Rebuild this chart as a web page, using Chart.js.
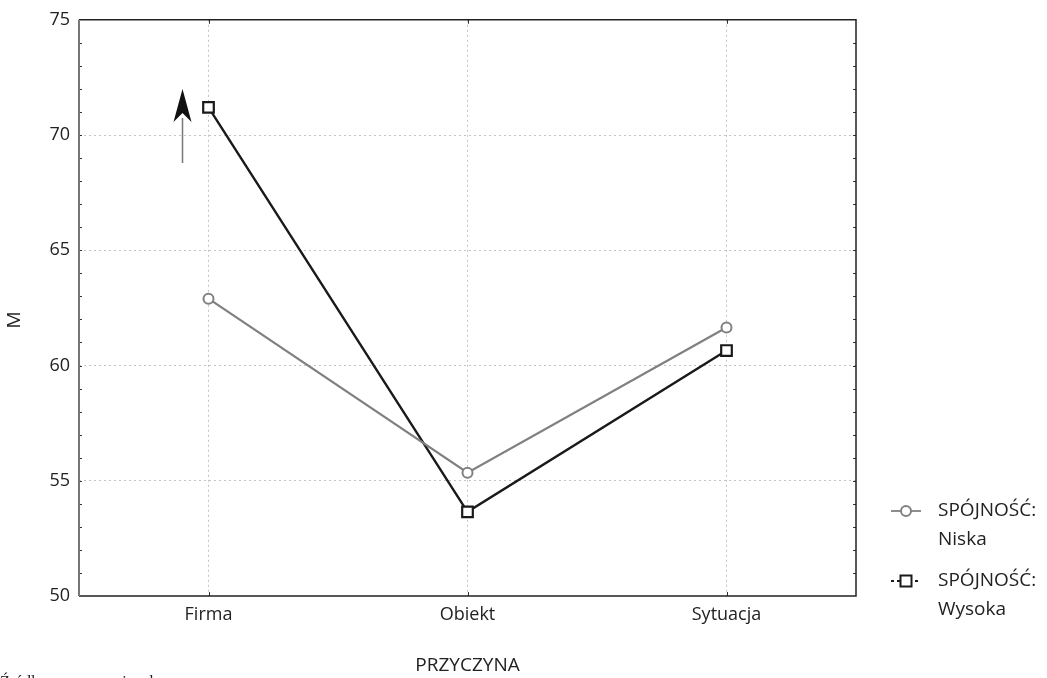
<!DOCTYPE html>
<html>
<head>
<meta charset="utf-8">
<script src="https://cdn.jsdelivr.net/npm/chart.js@4.4.0/dist/chart.umd.min.js"></script>
<style>
  html, body { margin: 0; padding: 0; background: #fff; overflow: hidden; }
  #wrap { position: relative; width: 1047px; height: 678px; }
</style>
</head>
<body>
<div id="wrap"><canvas id="meansChart"></canvas></div>
<script>
const categories = ['Firma', 'Obiekt', 'Sytuacja'];
const niskaValues = [62.9, 55.35, 61.65];
const wysokaValues = [71.2, 53.65, 60.65];
const seriesLabels = [['SPÓJNOŚĆ:', 'Niska'], ['SPÓJNOŚĆ:', 'Wysoka']];
const yMin = 50, yMax = 75, yMajorStep = 5;

const FONT = '"Open Sans", "Noto Sans", sans-serif';

// frame, minor ticks, arrow, legend, y title and source note
const extras = {
    id: 'extras',
    afterDraw(chart) {
        const ctx = chart.ctx;
        const a = chart.chartArea;
        const y = chart.scales.y;
        const x = chart.scales.x;
        ctx.save();

        // minor ticks on left and right
        ctx.strokeStyle = '#333';
        ctx.lineWidth = 1;
        for (let v = yMin + 1; v < yMax; v++) {
            const py = Math.round(y.getPixelForValue(v)) + 0.5;
            ctx.beginPath();
            ctx.moveTo(a.left, py); ctx.lineTo(a.left + 3, py);
            ctx.moveTo(a.right, py); ctx.lineTo(a.right - 3, py);
            ctx.stroke();
        }
        categories.forEach((c, i) => {
            const px = Math.round(x.getPixelForValue(i)) + 0.5;
            ctx.beginPath();
            ctx.moveTo(px, a.bottom); ctx.lineTo(px, a.bottom - 4);
            ctx.moveTo(px, a.top); ctx.lineTo(px, a.top + 4);
            ctx.stroke();
        });

        // frame
        ctx.strokeStyle = '#222';
        ctx.lineWidth = 1.5;
        ctx.beginPath();
        ctx.moveTo(a.left, a.top); ctx.lineTo(a.right, a.top);
        ctx.lineTo(a.right, a.bottom); ctx.lineTo(a.left, a.bottom);
        ctx.stroke();
        ctx.strokeStyle = '#777';
        ctx.lineWidth = 2;
        ctx.beginPath();
        ctx.moveTo(a.left, a.top); ctx.lineTo(a.left, a.bottom);
        ctx.stroke();

        // arrow next to Firma
        const ax = x.getPixelForValue(0) - 26;
        ctx.strokeStyle = '#777';
        ctx.lineWidth = 1.5;
        ctx.beginPath();
        ctx.moveTo(ax, 163); ctx.lineTo(ax, 118);
        ctx.stroke();
        ctx.fillStyle = '#111';
        ctx.beginPath();
        ctx.moveTo(ax, 89);
        ctx.lineTo(ax + 9, 122);
        ctx.lineTo(ax, 113);
        ctx.lineTo(ax - 9, 122);
        ctx.closePath();
        ctx.fill();

        // y axis title
        ctx.save();
        ctx.translate(15, 320);
        ctx.rotate(-Math.PI / 2);
        ctx.font = '19px ' + FONT;
        ctx.fillStyle = '#222';
        ctx.textAlign = 'center';
        ctx.textBaseline = 'middle';
        ctx.fillText('M', 0, 0);
        ctx.restore();

        // legend
        const ds = chart.data.datasets;
        const rows = [511, 581];
        ctx.font = '19px ' + FONT;
        ctx.textBaseline = 'middle';
        ctx.textAlign = 'left';
        ds.forEach((d, i) => {
            const ly = rows[i];
            ctx.strokeStyle = d.borderColor;
            ctx.lineWidth = 1.8;
            ctx.setLineDash(i === 0 ? [] : [3, 3]);
            ctx.beginPath();
            ctx.moveTo(891, ly); ctx.lineTo(921, ly);
            ctx.stroke();
            ctx.setLineDash([]);
            ctx.fillStyle = '#fff';
            ctx.lineWidth = 2;
            if (i === 0) {
                ctx.beginPath();
                ctx.arc(906, ly, 5, 0, Math.PI * 2);
                ctx.fill(); ctx.stroke();
            } else {
                ctx.fillRect(900.5, ly - 5.5, 11, 11);
                ctx.strokeRect(900.5, ly - 5.5, 11, 11);
            }
            ctx.fillStyle = '#222';
            ctx.fillText(seriesLabels[i][0], 938, ly);
            ctx.fillText(seriesLabels[i][1], 938, ly + 29);
        });

        // source note (cut by page bottom)
        ctx.font = '16px "Liberation Serif", serif';
        ctx.textBaseline = 'alphabetic';
        ctx.fillStyle = '#222';
        ctx.fillText('Źródło: opracowanie własne', 0, 687);
        ctx.restore();
    }
};

new Chart(document.getElementById('meansChart'), {
    type: 'line',
    data: {
        labels: categories,
        datasets: [{
            label: 'SPÓJNOŚĆ: Niska',
            data: niskaValues,
            borderColor: '#808080',
            backgroundColor: '#fff',
            borderWidth: 2.2,
            pointStyle: 'circle',
            pointRadius: 5,
            pointBorderWidth: 2,
            pointBackgroundColor: '#fff',
            tension: 0
        }, {
            label: 'SPÓJNOŚĆ: Wysoka',
            data: wysokaValues,
            borderColor: '#1a1a1a',
            backgroundColor: '#fff',
            borderWidth: 2.4,
            pointStyle: 'rect',
            pointRadius: 7.5,
            pointBorderWidth: 2.2,
            pointBackgroundColor: '#fff',
            tension: 0
        }]
    },
    options: {
        responsive: true,
        maintainAspectRatio: false,
        animation: false,
        layout: { padding: { top: 18, right: 191, left: 0, bottom: 0 } },
        plugins: {
            legend: { display: false },
            tooltip: { enabled: false }
        },
        scales: {
            x: {
                offset: true,
                afterFit: (s) => { s.height = 82; },
                grid: { color: '#c4c4c4', lineWidth: 1, drawTicks: false, offset: false },
                border: { display: false, dash: [2, 3] },
                ticks: { color: '#222', font: { family: FONT, size: 18 }, padding: 8 },
                title: { display: true, text: 'PRZYCZYNA', color: '#222', font: { family: FONT, size: 19 }, padding: { top: 0, bottom: 1 } }
            },
            y: {
                min: yMin,
                max: yMax,
                afterFit: (s) => { s.width = 79; },
                grid: {
                    color: (c) => (c.tick && c.tick.value % yMajorStep === 0 && c.tick.value !== yMin && c.tick.value !== yMax) ? '#c4c4c4' : 'transparent',
                    lineWidth: 1,
                    drawTicks: false
                },
                border: { display: false, dash: [2, 3] },
                ticks: {
                    stepSize: 1,
                    autoSkip: false,
                    color: '#222',
                    font: { family: FONT, size: 18 },
                    padding: 9,
                    callback: (v) => (v % yMajorStep === 0 ? v : '')
                },
                title: { display: false }
            }
        }
    },
    plugins: [extras]
});
</script>
</body>
</html>
